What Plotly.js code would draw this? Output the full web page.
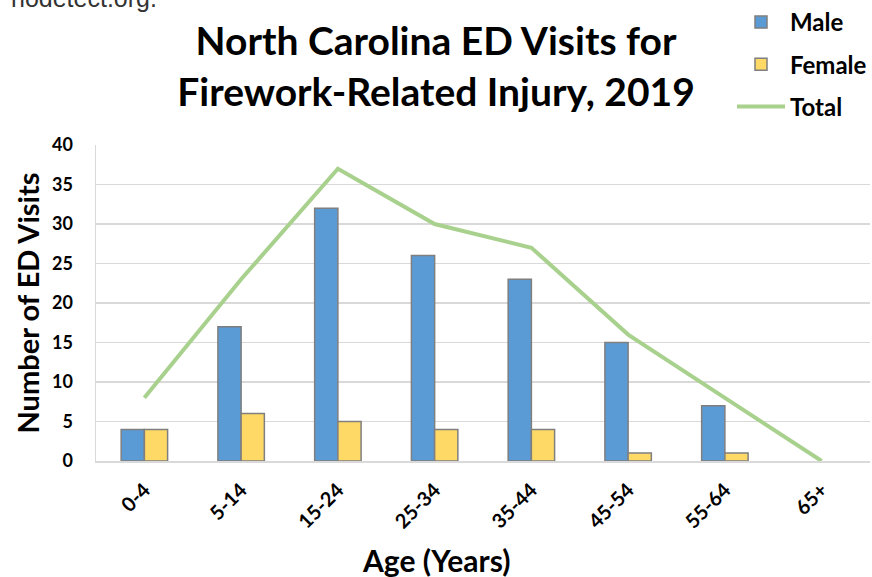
<!DOCTYPE html>
<html><head><meta charset="utf-8">
<script src="https://cdn.plot.ly/plotly-3.0.1.min.js"></script>
<style>html,body{margin:0;padding:0;background:#fff}#c{width:872px;height:577px}</style>
</head><body><div id="c"></div>
<script>
const ageGroups = ["0-4","5-14","15-24","25-34","35-44","45-54","55-64","65+"];
const maleVisits = [4,17,32,26,23,15,7,0];
const femaleVisits = [4,6,5,4,4,1,1,0];
const totalVisits = [8,23,37,30,27,16,8,0];
const yTicks = [0,5,10,15,20,25,30,35,40];

const F = "Lato, 'Open Sans', sans-serif";
const outline = v => v.map(d => d > 0 ? 1.5 : 0);
const traces = [
  {type:"bar", name:"Male", x:ageGroups, y:maleVisits, legendgroup:"a",
   marker:{color:"#5b9bd5", line:{color:"#7f7f7f", width:outline(maleVisits)}}},
  {type:"bar", name:"Female", x:ageGroups, y:femaleVisits, legendgroup:"b",
   marker:{color:"#ffd966", line:{color:"#7f7f7f", width:outline(femaleVisits)}}},
  {type:"scatter", mode:"lines", name:"Total", x:ageGroups, y:totalVisits, legendgroup:"c",
   line:{color:"#a9d18e", width:4}}
];
const layout = {
  width:872, height:577,
  margin:{l:96, r:2, t:145, b:116},
  paper_bgcolor:"#fff", plot_bgcolor:"#fff",
  barmode:"group", bargap:0.52, bargroupgap:0,
  font:{family:F, color:"#000"},
  title:{text:"<b>North Carolina ED Visits for<br>Firework-Related Injury, 2019</b>",
    font:{family:F, size:39, color:"#000"}, x:0.5, xref:"container", xanchor:"center",
    y:0.905, yref:"container", yanchor:"middle"},
  xaxis:{type:"category", tickangle:-45, tickfont:{family:F, size:20, color:"#000", weight:"bold"},
    showgrid:false, showline:true, linecolor:"#d9d9d9", linewidth:1.5, ticks:"",
    ticklabelstandoff:8},
  yaxis:{range:[0,40], tickvals:yTicks, ticktext:yTicks.map(String),
    tickfont:{family:F, size:18, color:"#000", weight:"bold"},
    showgrid:true, gridcolor:"#d9d9d9", gridwidth:1.5, zeroline:false,
    showline:true, linecolor:"#d9d9d9", linewidth:1.5, ticks:"", ticklen:0,
    ticklabelstandoff:18,
    title:{text:"<b>Number of ED Visits</b>", font:{family:F, size:29, color:"#000"}, standoff:4}},
  legend:{x:1.027, xanchor:"right", y:1.026, yref:"container", yanchor:"top",
    font:{family:F, size:24, color:"#000", weight:"bold"},
    tracegroupgap:8, itemwidth:48, bgcolor:"rgba(0,0,0,0)"},
  annotations:[
    {text:"nodetect.org.", xref:"paper", yref:"paper", x:-0.112, y:1.0, xanchor:"left",
     yanchor:"bottom", yshift:131, showarrow:false, font:{family:"Liberation Sans, Arial", size:25, color:"#333"}},
    {text:"<b>Age (Years)</b>", xref:"paper", yref:"paper", x:0.439, y:0, xanchor:"center",
     yanchor:"middle", yshift:-99, showarrow:false, font:{family:F, size:30, color:"#000"}}
  ],
  showlegend:true
};
Plotly.newPlot("c", traces, layout, {displayModeBar:false, staticPlot:true});
</script></body></html>
